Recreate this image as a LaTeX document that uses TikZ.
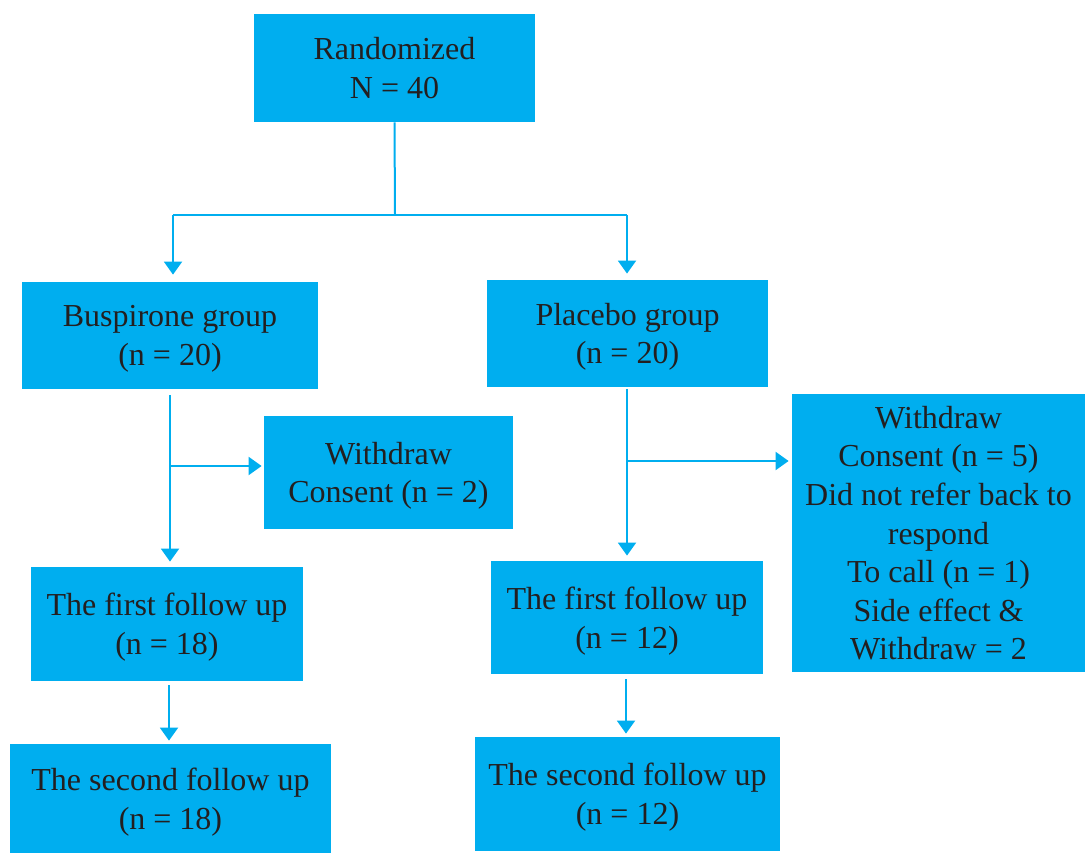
\documentclass[tikz,border=0pt]{standalone}
\usepackage{fontspec}
\setmainfont{Liberation Serif}
\usepackage{tikz}
\usetikzlibrary{arrows.meta, positioning, calc}
\usepackage{xcolor}
\definecolor{boxcyan}{HTML}{00AEEF}
\definecolor{inkgray}{HTML}{231F20}

\begin{document}
\begin{tikzpicture}[
  x=0.5pt, y=-0.5pt,
  font=\fontsize{16}{19.3}\selectfont,
  box/.style={rectangle, fill=boxcyan, text=inkgray,
              align=center, inner sep=0pt},
  lowbox/.style={box, text depth=-5.5pt},
  link/.style={draw=boxcyan, line width=1pt},
  arrow/.style={link, -{Triangle[width=9pt, length=6.5pt]}}
]
\useasboundingbox (0,0) rectangle (1085,854);

%% Boxes
\node[box,    minimum width=140.5pt, minimum height=54pt]   (rand) at (394.5,68)  {Randomized\\N = 40};
\node[lowbox, minimum width=148pt,   minimum height=53.5pt] (busp) at (170,335.5) {Buspirone group\\(n = 20)};
\node[lowbox, minimum width=140.5pt, minimum height=53.5pt] (plac) at (627.5,333.5) {Placebo group\\(n = 20)};
\node[lowbox, minimum width=124.5pt, minimum height=56.5pt] (wdL)  at (388.5,472.5) {Withdraw\\Consent (n = 2)};
\node[box, text depth=-6pt, minimum width=146.5pt, minimum height=139pt] (wdR) at (938.5,533) {Withdraw\\Consent (n = 5)\\Did not refer back to\\respond\\To call (n = 1)\\Side effect \&\\Withdraw = 2};
\node[lowbox, minimum width=136pt,   minimum height=57pt]   (fuL1) at (167,624)   {The first follow up\\(n = 18)};
\node[lowbox, minimum width=136pt,   minimum height=56.5pt] (fuR1) at (627,617.5) {The first follow up\\(n = 12)};
\node[lowbox, minimum width=160.5pt, minimum height=54.5pt] (fuL2) at (170.5,798.5) {The second follow up\\(n = 18)};
\node[lowbox, minimum width=152.5pt, minimum height=57pt]   (fuR2) at (627.5,794) {The second follow up\\(n = 12)};

%% Split after randomisation
\coordinate (split)  at (395,215);
\coordinate (splitL) at (173,215);
\coordinate (splitR) at (627,215);
\draw[link] (rand.south) -- (split);
\draw[link] (splitL) -- (splitR);
\draw[arrow, shorten >=3.5pt] (splitL) -- (splitL |- busp.north);
\draw[arrow, shorten >=3pt]   (splitR) -- (splitR |- plac.north);

%% Buspirone arm
\coordinate (busTop) at (170,389);
\coordinate (busBr)  at (170,466);
\coordinate (fuLTop) at (169,681);
\draw[arrow, shorten <=3pt, shorten >=2.5pt] (busTop) -- (busTop |- fuL1.north);
\draw[arrow, shorten >=1pt] (busBr) -- (busBr -| wdL.west);
\draw[arrow, shorten <=2pt, shorten >=1.5pt] (fuLTop) -- (fuLTop |- fuL2.north);

%% Placebo arm
\coordinate (placTop) at (627,387);
\coordinate (placBr)  at (627,461);
\coordinate (fuRTop)  at (626,674);
\draw[arrow, shorten <=1pt, shorten >=2.5pt] (placTop) -- (placTop |- fuR1.north);
\draw[arrow, shorten >=1.5pt] (placBr) -- (placBr -| wdR.west);
\draw[arrow, shorten <=2.5pt, shorten >=1.5pt] (fuRTop) -- (fuRTop |- fuR2.north);

\end{tikzpicture}
\end{document}
